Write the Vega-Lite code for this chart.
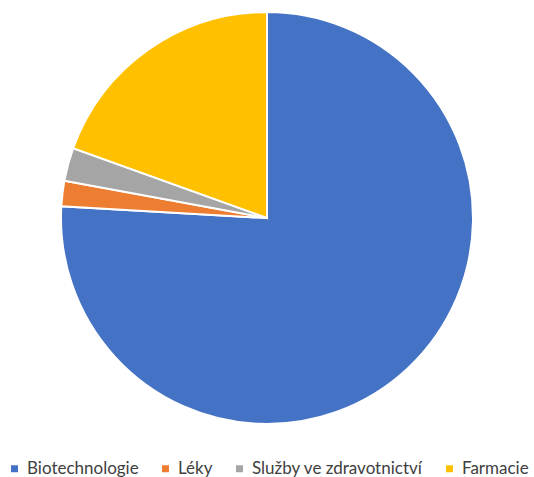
{
  "$schema": "https://vega.github.io/schema/vega-lite/v6.json",
  "width": 534,
  "height": 436,
  "padding": 0,
  "background": "white",
  "data": {"values": [
    {"kategorie": "Biotechnologie", "podil": 75.9, "idx": 1},
    {"kategorie": "Léky", "podil": 2.0, "idx": 2},
    {"kategorie": "Služby ve zdravotnictví", "podil": 2.6, "idx": 3},
    {"kategorie": "Farmacie", "podil": 19.5, "idx": 4}
  ]},
  "mark": {"type": "arc", "outerRadius": 206, "stroke": "white", "strokeWidth": 2},
  "encoding": {
    "theta": {"field": "podil", "type": "quantitative", "stack": true},
    "order": {"field": "idx", "type": "quantitative"},
    "color": {
      "field": "kategorie", "type": "nominal",
      "scale": {"domain": ["Biotechnologie", "Léky", "Služby ve zdravotnictví", "Farmacie"],
                "range": ["#4472C4", "#ED7D31", "#A5A5A5", "#FFC000"]},
      "legend": {"orient": "bottom", "title": null, "direction": "horizontal", "columns": 4,
                 "symbolType": "square", "symbolSize": 49, "symbolStrokeWidth": 0,
                 "labelFont": "Lato", "labelFontSize": 17, "labelColor": "#404040",
                 "labelLimit": 300, "labelOffset": 4, "padding": 6,
                 "columnPadding": 18, "offset": 18}
    }
  }
}
